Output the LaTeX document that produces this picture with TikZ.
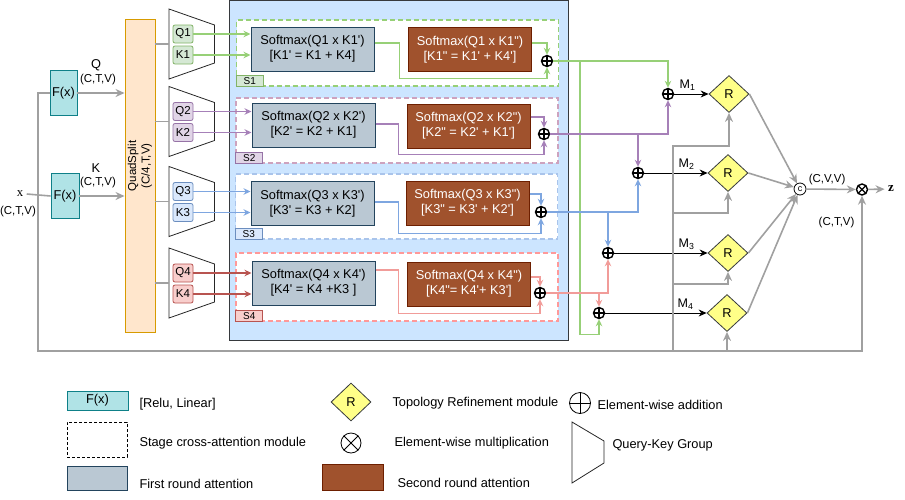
\documentclass[tikz,border=0pt]{standalone}
\usepackage{fontspec}
\setmainfont{Liberation Sans}[Ligatures=TeXOff]
\newfontfamily\serifx{Liberation Serif}
\usetikzlibrary{arrows.meta, positioning, shapes.geometric}

\definecolor{fxfill}{HTML}{B0E3E6}
\definecolor{fxdraw}{HTML}{0E8088}
\definecolor{qsfill}{HTML}{FFE6CC}
\definecolor{qsdraw}{HTML}{D79B00}
\definecolor{panelfill}{HTML}{CCE5FF}
\definecolor{paneldraw}{HTML}{36393D}
\definecolor{firstfill}{HTML}{BAC8D3}
\definecolor{firstdraw}{HTML}{23445D}
\definecolor{secondfill}{HTML}{A0522D}
\definecolor{seconddraw}{HTML}{6D1F00}
\definecolor{rfill}{HTML}{FFFF88}
\definecolor{linegray}{HTML}{A0A0A0}
\definecolor{qkfill1}{HTML}{D5E8D4}\definecolor{qkdraw1}{HTML}{82B366}\definecolor{qkline1}{HTML}{97D077}
\definecolor{qkfill2}{HTML}{E1D5E7}\definecolor{qkdraw2}{HTML}{9673A6}\definecolor{qkline2}{HTML}{A680B8}
\definecolor{qkfill3}{HTML}{DAE8FC}\definecolor{qkdraw3}{HTML}{6C8EBF}\definecolor{qkline3}{HTML}{7EA6E0}
\definecolor{qkfill4}{HTML}{F8CECC}\definecolor{qkdraw4}{HTML}{B85450}\definecolor{qkline4}{HTML}{B85450}
\definecolor{stage1}{HTML}{97D077}
\definecolor{stage2}{HTML}{CDA2BE}
\definecolor{stage3}{HTML}{A9C4EB}
\definecolor{stage4}{HTML}{FF9999}
\definecolor{flow1}{HTML}{97D077}
\definecolor{flow2}{HTML}{A680B8}
\definecolor{flow3}{HTML}{7EA6E0}
\definecolor{flow4}{HTML}{F19C99}

\tikzset{
  smalltxt/.style={font=\fontsize{11.5}{13.5}\selectfont},
  gline/.style={draw=linegray, line width=1.6pt},
  garrow/.style={gline, -{Stealth[length=9pt,width=8pt]}},
  flow/.style={draw=#1, line width=1.4pt, -{Stealth[length=7pt,width=6.5pt]}},
  fbox/.style={draw=fxdraw, fill=fxfill, line width=0.9pt, minimum width=27, minimum height=45, inner sep=0pt},
  splitbox/.style={draw=qsdraw, fill=qsfill, line width=0.9pt, inner sep=0pt},
  qkgroup/.style={draw=black!85, line width=0.8pt, fill=white},
  qkbox/.style 2 args={draw=#1, fill=#2, rounded corners=2pt, line width=0.8pt, minimum width=20, minimum height=18, inner sep=0pt, smalltxt},
  panel/.style={draw=paneldraw, fill=panelfill, line width=0.9pt, inner sep=0pt},
  stagebox/.style={draw=#1, fill=white, dash pattern=on 5pt off 3pt, line width=1.3pt, minimum width=322, inner sep=0pt},
  stagetag/.style 2 args={draw=#1, fill=#2, anchor=south west, line width=0.8pt, minimum width=27, minimum height=11, inner sep=0pt, font=\fontsize{10}{11}\selectfont},
  firstatt/.style={draw=firstdraw, fill=firstfill, line width=1pt, minimum width=123, minimum height=44, align=center, inner sep=0pt},
  secondatt/.style={draw=seconddraw, fill=secondfill, text=white, line width=1pt, minimum width=123, minimum height=44, align=center, inner sep=0pt},
  plusop/.style={circle, draw, line width=1.4pt, minimum size=11, inner sep=0pt,
    path picture={\draw[line width=1.2pt] (path picture bounding box.north) -- (path picture bounding box.south)
      (path picture bounding box.west) -- (path picture bounding box.east);}},
  mulop/.style={circle, draw, line width=1.4pt, minimum size=11, inner sep=0pt,
    path picture={\draw[line width=1.2pt] (path picture bounding box.north west) -- (path picture bounding box.south east)
      (path picture bounding box.south west) -- (path picture bounding box.north east);}},
  catop/.style={circle, draw, line width=0.8pt, minimum size=12, inner sep=0pt, font=\fontsize{9}{10}\selectfont},
  refine/.style={diamond, draw=paneldraw, fill=rfill, line width=0.8pt, minimum width=40, minimum height=37, inner sep=0pt},
  mlabel/.style={font=\fontsize{12.5}{14}\selectfont, inner sep=0pt}
}

\begin{document}
\begin{tikzpicture}[x=1pt, y=-1pt, font=\fontsize{12.8}{14.8}\selectfont]
    \useasboundingbox (0,0) rectangle (905,499);

    % inputs
    \node (xin) at (20,194) {\serifx x};
    \node[smalltxt] at (18,212) {(C,T,V)};
    \node[fbox] (fq) at (63.5,93) {F(x)};
    \node[fbox, minimum width=28] (fk) at (65,196) {F(x)};
    \node[splitbox, minimum width=30, minimum height=313] (qs) at (140,175.5) {};
    \node[smalltxt, rotate=90, align=center] at (140,166) {QuadSplit\\(C/4,T,V)};
    \node at (96,65) {Q};
    \node[smalltxt] at (98,80) {(C,T,V)};
    \node at (96,168) {K};
    \node[smalltxt] at (98,183) {(C,T,V)};
    \draw[gline] (xin.east) -- (fk.west);
    \draw[garrow] (fq.east) -- (fq.east -| qs.west);
    \draw[garrow] (fk.east) -- (fk.east -| qs.west);

    % query-key groups
    \foreach \i/\y in {1/44, 2/121.5, 3/201.5, 4/283}{
        \draw[qkgroup] (169,\y-35) -- (214.5,\y-19) -- (214.5,\y+19) -- (169,\y+35) -- cycle;
        \draw[gline] (qs.east |- 0,\y) -- (169,\y);
        \node[qkbox={qkdraw\i}{qkfill\i}] (q\i) at (183,\y-10) {Q\i};
        \node[qkbox={qkdraw\i}{qkfill\i}] (k\i) at (183,\y+11) {K\i};
    }

    % stage cross-attention panel
    \node[panel, minimum width=339, minimum height=339.5] (panel) at (398.5,170.2) {};
    \node[stagebox=stage1, minimum height=66] (s1) at (397.5,53) {};
    \node[stagebox=stage2, minimum height=65] (s2) at (397,130.5) {};
    \node[stagebox=stage3, minimum height=65] (s3) at (396.5,206.5) {};
    \node[stagebox=stage4, minimum height=68] (s4) at (397,287) {};
    \node[stagetag={qkdraw1}{qkfill1}] at (s1.south west) {S1};
    \node[stagetag={qkdraw2}{qkfill2}] at (s2.south west) {S2};
    \node[stagetag={qkdraw3}{qkfill3}] at (s3.south west) {S3};
    \node[stagetag={qkdraw4}{qkfill4}] at (s4.south west) {S4};

    \node[firstatt] (a1) at (312.5,49) {Softmax(Q1 x K1')\\{[K1' = K1 + K4]}};
    \node[firstatt] (a2) at (313.5,125) {Softmax(Q2 x K2')\\{[K2' = K2 + K1]}};
    \node[firstatt] (a3) at (312.5,203.5) {Softmax(Q3 x K3')\\{[K3' = K3 + K2]}};
    \node[firstatt] (a4) at (313.5,283) {Softmax(Q4 x K4')\\{[K4' = K4 +K3 ]}};
    \node[secondatt] (b1) at (470,49.5) {Softmax(Q1 x K1")\\{[K1" = K1' + K4']}};
    \node[secondatt] (b2) at (468.5,126) {Softmax(Q2 x K2")\\{[K2" = K2' + K1']}};
    \node[secondatt] (b3) at (467.5,203) {Softmax(Q3 x K3")\\{[K3" = K3' + K2']}};
    \node[secondatt] (b4) at (469,284) {Softmax(Q4 x K4")\\{[K4"= K4'+ K3']}};
    \node[plusop] (p1) at (547,61) {};
    \node[plusop] (p2) at (544,134) {};
    \node[plusop] (p3) at (541,212) {};
    \node[plusop] (p4) at (540,293) {};

    \foreach \i in {1,...,4}{
        \draw[flow=qkline\i] (q\i.east) -- (q\i.east -| a\i.west);
        \draw[flow=qkline\i] (k\i.east) -- (k\i.east -| a\i.west);
    }

    % first round + second round
    \draw[flow=flow1] ([yshift=6]a1.east) -- ++(25,0) |- ([yshift=8]s1.south -| p1) -- (p1);
    \draw[flow=flow1] ([yshift=6.5]b1.east) -| (p1);
    \draw[flow=flow2] ([yshift=1]a2.east) -- ++(23,0) |- ([yshift=9]s2.south -| p2) -- (p2);
    \draw[flow=flow2] ([yshift=9]b2.east) -| (p2);
    \draw[flow=flow3] ([yshift=1.5]a3.east) -- ++(24,0) |- ([yshift=6]s3.south -| p3) -- (p3);
    \draw[flow=flow3] ([yshift=9]b3.east) -| (p3);
    \draw[flow=flow4] ([yshift=13]a4.east) -- ++(23,0) |- ([yshift=8]s4.south -| p4) -- (p4);
    \draw[flow=flow4] ([yshift=7]b4.east) -| (p4);

    % merging
    \node[plusop] (m1) at (668,94) {};
    \node[plusop] (m2) at (638,173) {};
    \node[plusop] (m3) at (608,253) {};
    \node[plusop] (m4) at (599,313) {};
    \coordinate (gdrop) at (580,0);
    \draw[flow=flow1] (p1) -| (m1);
    \draw[flow=flow1] (p1 -| gdrop) |- ([yshift=-15]m4.south) -- (m4);
    \draw[flow=flow2] (p2) -| (m1);
    \draw[flow=flow2] (p2 -| m2) -- (m2);
    \draw[flow=flow3] (p3) -| (m2);
    \draw[flow=flow3] (p3 -| m3) -- (m3);
    \draw[flow=flow4] (p4) -| (m3);
    \draw[flow=flow4] (p4 -| m4) -- (m4);

    % topology refinement
    \node[refine] (r1) at (729,94) {R};
    \node[refine] (r2) at (728,173) {R};
    \node[refine] (r3) at (728,253) {R};
    \node[refine] (r4) at (727,313) {R};
    \foreach \i in {1,...,4}{
        \draw[-{Stealth[length=8pt,width=7pt]}, line width=0.8pt] (m\i) -- (r\i);
        \node[mlabel, above left=3pt and 13pt of r\i.west] {M\textsubscript{\i}};
    }

    \coordinate (lp) at (38,351);
    \coordinate (bus) at (673,351);
    \node[catop] (cat) at (800,189) {c};
    \node[mulop] (mul) at (862,189.5) {};
    \node[font=\serifx\bfseries\fontsize{13}{14}\selectfont] (zout) at (891,189) {z};

    \draw[garrow] (fq.west) -| (lp) -| (mul);
    \draw[garrow] (bus) |- ([yshift=-33]r1.south) -- (r1.south);
    \draw[garrow] ([yshift=-21]r2.south -| bus) -| (r2.south);
    \draw[garrow] ([yshift=-12]r3.south -| bus) -| (r3.south);
    \draw[garrow] (r4.south |- bus) -- (r4.south);
    \foreach \i in {1,...,4}
        \draw[garrow] (r\i.east) -- (cat);
    \draw[garrow] (cat) -- node[smalltxt, above, xshift=-4] {(C,V,V)} (mul);
    \draw[garrow] (mul) -- (zout);
    \node[smalltxt, anchor=east] at ([xshift=-4,yshift=-33]mul) {(C,T,V)};

    % legend
    \node[fbox, minimum width=61, minimum height=19] (lgf) at (97.5,400.5) {F(x)};
    \node[anchor=west] at (136,404) {[Relu, Linear]};
    \node[draw, dash pattern=on 3pt off 2pt, line width=0.8pt, minimum width=60, minimum height=35] (lgs) at (97,439.5) {};
    \node[anchor=west] at (136,443) {Stage cross-attention module};
    \node[firstatt, minimum width=60, minimum height=24] (lga) at (97,478) {};
    \node[anchor=west] at (136,484) {First round attention};
    \node[refine, minimum height=38] (lgr) at (351,402) {R};
    \node[anchor=west] at (389,403) {Topology Refinement module};
    \node[mulop, line width=0.8pt, minimum size=20, path picture={}] (lgm) at (351,443) {};
    \draw[line width=0.8pt] (lgm.north west) -- (lgm.south east) (lgm.south west) -- (lgm.north east);
    \node[anchor=west] at (391,443) {Element-wise multiplication};
    \node[secondatt, minimum width=61, minimum height=26] (lgb) at (352.5,477) {};
    \node[anchor=west] at (394,483) {Second round attention};
    \node[circle, draw, line width=0.8pt, minimum size=21, inner sep=0pt] (lgp) at (580,403) {};
    \draw[line width=0.8pt] (lgp.north) -- (lgp.south) (lgp.west) -- (lgp.east);
    \node[anchor=west] at (594,405) {Element-wise addition};
    \draw[qkgroup] (572,422) -- (604,441) -- (604,463) -- (572,483) -- cycle;
    \node[anchor=west] at (609,445) {Query-Key Group};
\end{tikzpicture}
\end{document}
